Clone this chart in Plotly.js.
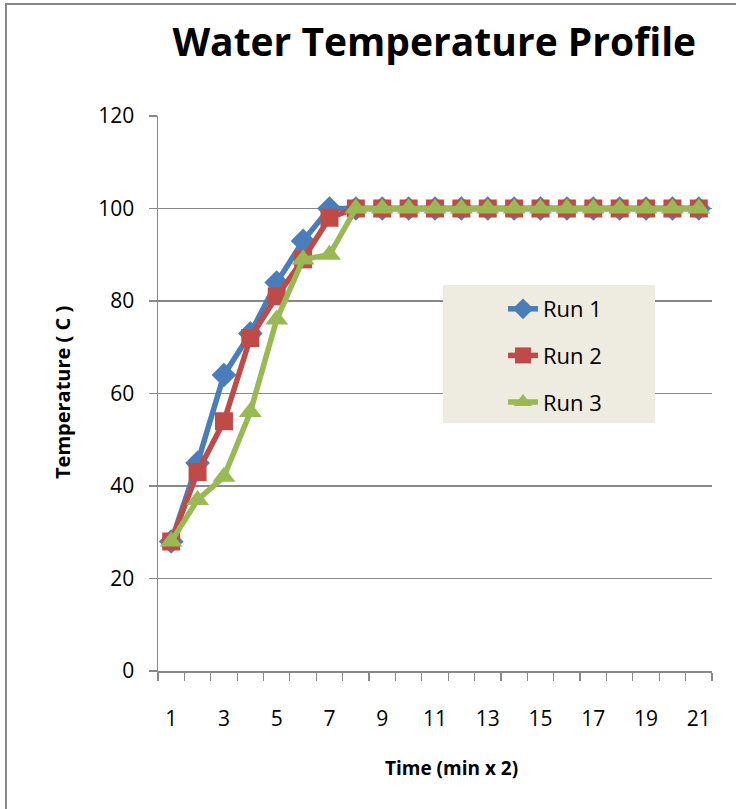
<!DOCTYPE html>
<html><head><meta charset="utf-8">
<script src="https://cdn.plot.ly/plotly-3.0.1.min.js"></script>
<style>
html,body{margin:0;padding:0;background:#fff;}
#wrap{position:relative;width:736px;height:809px;}
#chart{width:736px;height:809px;}
#frame{position:absolute;left:5px;top:3px;width:740px;height:820px;border:2px solid #888;box-sizing:border-box;pointer-events:none;}
</style></head>
<body>
<div id="wrap"><div id="chart"></div><div id="frame"></div></div>
<script>
const timeSteps = [1,2,3,4,5,6,7,8,9,10,11,12,13,14,15,16,17,18,19,20,21];
const run1 = [28,45,64,73,84,93,100,100,100,100,100,100,100,100,100,100,100,100,100,100,100];
const run2 = [28,43,54,72,81,89,98,100,100,100,100,100,100,100,100,100,100,100,100,100,100];
const run3 = [28,37,42,56,76,89,90,100,100,100,100,100,100,100,100,100,100,100,100,100,100];
const xTickVals = [1,3,5,7,9,11,13,15,17,19,21];
const yTickVals = [0,20,40,60,80,100,120];

const fontFam = 'Open Sans, Noto Sans, sans-serif';
const boundaries = [];
for (let i = 0; i <= timeSteps.length; i++) boundaries.push(timeSteps[0] - 0.5 + i);

// plot area in px: left 158, right 712, top 116, bottom 671
const PL = 158, PR = 712, PT = 116, PB = 671;
const px2x = v => (v - PL) / (PR - PL);
const px2y = v => (PB - v) / (PB - PT);

const traces = [
  {x: timeSteps, y: run1, name: 'Run 1', legendgroup: 'a', mode: 'lines+markers',
   line: {color: '#4A7EBB', width: 5.5}, marker: {symbol: 'diamond', size: 19, color: '#4A7EBB'}},
  {x: timeSteps, y: run2, name: 'Run 2', legendgroup: 'b', mode: 'lines+markers',
   line: {color: '#BE4B48', width: 5.5}, marker: {symbol: 'square', size: 18, color: '#BE4B48'}},
  {x: timeSteps, y: run3, name: 'Run 3', legendgroup: 'c', mode: 'lines+markers',
   line: {color: '#98B954', width: 5.5}, marker: {symbol: 'triangle-up', size: 20, color: '#98B954'}}
];

const layout = {
  width: 736, height: 809,
  margin: {l: PL, r: 736 - PR, t: PT, b: 809 - PB},
  paper_bgcolor: '#fff', plot_bgcolor: '#fff',
  showlegend: true,
  title: {text: '<b>Water Temperature Profile</b>', x: 0.59, xanchor: 'center', y: 0.948, yanchor: 'middle',
          font: {family: fontFam, size: 39, color: '#000'}},
  xaxis: {
    range: [0.5, 21.5], tickvals: xTickVals, ticktext: xTickVals.map(String),
    ticks: 'outside', ticklen: 28, tickcolor: 'rgba(0,0,0,0)',
    showgrid: false, zeroline: false, showline: true, linecolor: '#888', linewidth: 1.5,
    tickfont: {family: fontFam, size: 21, color: '#000'},
    minor: {tickvals: boundaries, ticks: 'outside', ticklen: 8, tickcolor: '#888', tickwidth: 1.2, showgrid: false},
    fixedrange: true
  },
  yaxis: {
    range: [0, 120], tickvals: yTickVals, ticks: 'outside', ticklen: 8, tickcolor: '#888', tickwidth: 1.2,
    ticklabelstandoff: 10,
    showgrid: true, gridcolor: '#888', gridwidth: 1.2, zeroline: false,
    showline: true, linecolor: '#888', linewidth: 1.5,
    tickfont: {family: fontFam, size: 21, color: '#000'},
    fixedrange: true
  },
  shapes: [
    {type: 'rect', xref: 'paper', yref: 'paper', x0: px2x(443), x1: px2x(655), y0: px2y(423), y1: px2y(285),
     fillcolor: '#EEECE1', line: {width: 0}, layer: 'above'}
  ],
  annotations: [
    {text: '<b>Time (min x 2)</b>', xref: 'paper', yref: 'paper', x: px2x(451), y: px2y(768),
     xanchor: 'center', yanchor: 'middle', showarrow: false, font: {family: fontFam, size: 19, color: '#000'}},
    {text: '<b>Temperature ( C )</b>', xref: 'paper', yref: 'paper', x: px2x(62), y: px2y(393),
     xanchor: 'center', yanchor: 'middle', textangle: -90, showarrow: false, font: {family: fontFam, size: 20, color: '#000'}}
  ],
  legend: {x: px2x(503), y: px2y(288), xanchor: 'left', yanchor: 'top', bgcolor: 'rgba(0,0,0,0)', borderwidth: 0,
           font: {family: fontFam, size: 22, color: '#000'}, tracegroupgap: 15}
};

Plotly.newPlot('chart', traces, layout, {displayModeBar: false, staticPlot: true});
</script>
</body></html>
